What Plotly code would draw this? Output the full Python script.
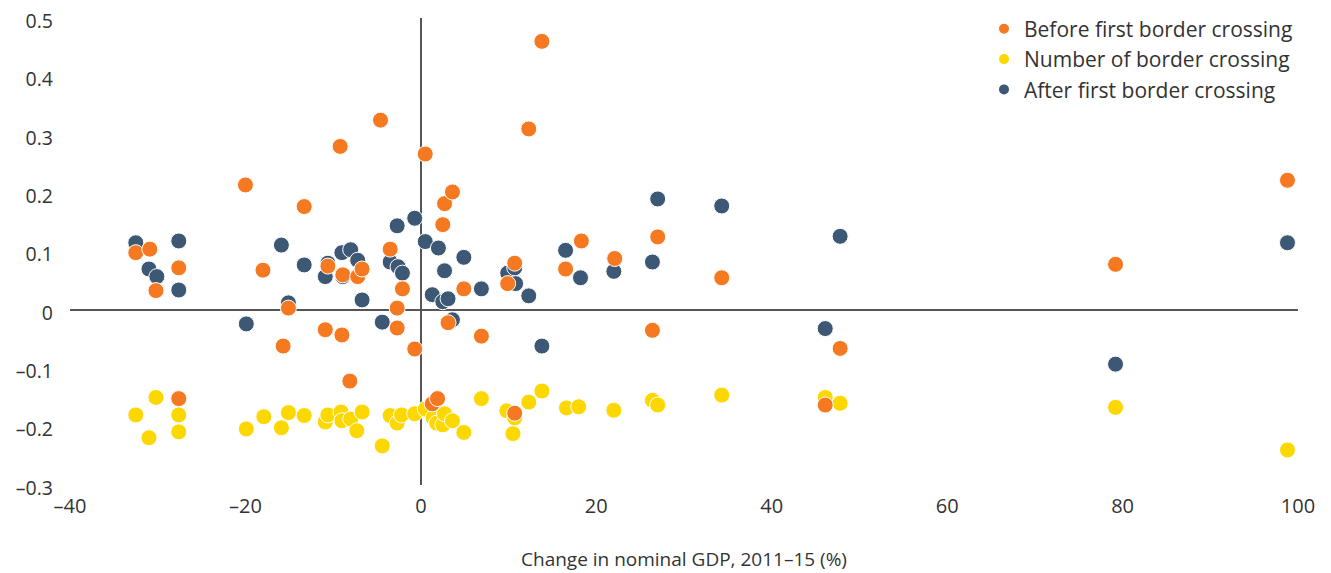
import plotly.graph_objects as go

# Before first border crossing (orange)
before_x = [-32.5, -30.9, -30.2, -27.6, -27.6, -20.0, -18.0, -15.7, -15.1, -13.3,
            -10.9, -10.6, -9.2, -9.0, -8.9, -8.1, -7.2, -6.7, -4.6, -3.5,
            -2.7, -2.7, -2.1, -0.7, 0.5, 1.3, 1.9, 2.5, 2.7, 3.1,
            3.6, 4.9, 6.9, 9.9, 10.7, 10.7, 12.3, 13.8, 16.5, 18.3,
            22.1, 26.4, 27.0, 34.3, 46.1, 47.8, 79.2, 98.8]
before_y = [0.098, 0.104, 0.033, 0.072, -0.152, 0.214, 0.068, -0.062, 0.003, 0.177,
            -0.034, 0.075, 0.280, -0.043, 0.060, -0.122, 0.057, 0.070, 0.325, 0.104,
            0.003, -0.031, 0.036, -0.067, 0.267, -0.161, -0.152, 0.146, 0.182, -0.022,
            0.202, 0.036, -0.045, 0.045, 0.080, -0.177, 0.310, 0.460, 0.070, 0.118,
            0.088, -0.035, 0.125, 0.055, -0.163, -0.066, 0.078, 0.222]

# Number of border crossing (yellow)
number_x = [-32.5, -31.0, -30.2, -27.6, -27.6, -19.9, -17.9, -15.9, -15.1, -13.3,
            -10.9, -10.6, -9.1, -9.0, -8.0, -7.3, -6.7, -4.4, -3.5, -2.7,
            -2.2, -0.7, 0.5, 1.4, 1.8, 2.5, 2.7, 3.6, 4.9, 6.9,
            9.8, 10.5, 10.7, 12.3, 13.8, 16.6, 18.0, 22.0, 26.4, 27.0,
            34.3, 46.1, 47.8, 79.2, 98.8]
number_y = [-0.180, -0.219, -0.150, -0.180, -0.209, -0.204, -0.183, -0.202, -0.176, -0.181,
            -0.192, -0.180, -0.175, -0.190, -0.187, -0.207, -0.175, -0.233, -0.181, -0.194,
            -0.180, -0.178, -0.170, -0.185, -0.194, -0.197, -0.178, -0.190, -0.210, -0.152,
            -0.173, -0.212, -0.185, -0.158, -0.139, -0.168, -0.166, -0.172, -0.155, -0.163,
            -0.146, -0.150, -0.160, -0.167, -0.240]

# After first border crossing (dark blue)
after_x = [-32.5, -31.0, -30.1, -27.6, -27.6, -19.9, -15.9, -15.1, -13.3, -10.9,
           -10.6, -9.0, -8.0, -8.9, -7.2, -6.7, -4.4, -3.5, -2.7, -2.6,
           -2.1, -0.7, 0.5, 1.3, 2.0, 2.5, 2.7, 3.1, 3.6, 4.9,
           6.9, 9.9, 10.7, 10.8, 12.3, 13.8, 16.5, 18.2, 22.0, 26.4,
           27.0, 34.3, 46.1, 47.8, 79.2, 98.8]
after_y = [0.115, 0.070, 0.057, 0.118, 0.034, -0.024, 0.111, 0.012, 0.077, 0.057,
           0.080, 0.098, 0.103, 0.057, 0.085, 0.017, -0.021, 0.082, 0.144, 0.074,
           0.063, 0.157, 0.117, 0.026, 0.106, 0.014, 0.067, 0.019, -0.017, 0.090,
           0.036, 0.063, 0.072, 0.045, 0.024, -0.062, 0.102, 0.055, 0.066, 0.082,
           0.190, 0.178, -0.032, 0.126, -0.093, 0.115]

x_ticks = [-40, -20, 0, 20, 40, 60, 80, 100]
x_ticktext = ["–40", "–20", "0", "20", "40", "60", "80", "100"]
y_ticks = [-0.3, -0.2, -0.1, 0, 0.1, 0.2, 0.3, 0.4, 0.5]
y_ticktext = ["–0.3", "–0.2", "–0.1", "0", "0.1", "0.2", "0.3", "0.4", "0.5"]

ORANGE = "#F47920"
YELLOW = "#FDD700"
BLUE = "#3C5875"
FONT = "'Open Sans', 'Noto Sans', sans-serif"

def mk(color):
    return dict(color=color, size=16, line=dict(color="white", width=1))

fig = go.Figure()
fig.add_trace(go.Scatter(x=number_x, y=number_y, mode="markers", name="Number of border crossing",
                         marker=mk(YELLOW), legendrank=2))
fig.add_trace(go.Scatter(x=after_x, y=after_y, mode="markers", name="After first border crossing",
                         marker=mk(BLUE), legendrank=3))
fig.add_trace(go.Scatter(x=before_x, y=before_y, mode="markers", name="Before first border crossing",
                         marker=mk(ORANGE), legendrank=1))

fig.update_layout(
    width=1331, height=573,
    margin=dict(l=62, r=41, t=10, b=96, autoexpand=False),
    paper_bgcolor="white", plot_bgcolor="white",
    font=dict(family=FONT, size=20, color="#333333"),
    showlegend=True,
    legend=dict(x=1.0, xanchor="right", y=1.02, yanchor="top",
                font=dict(family=FONT, size=21, color="#333333"), bgcolor="rgba(0,0,0,0)",
                itemsizing="constant", tracegroupgap=0),
    xaxis=dict(range=[-40, 100], tickvals=x_ticks, ticktext=x_ticktext, automargin=False,
               showgrid=False, zeroline=True, zerolinecolor="#555555", zerolinewidth=1.5,
               showline=False, ticks="", ticklen=0, ticklabelstandoff=7,
               ticklabeloverflow="allow",
               title=dict(text="Change in nominal GDP, 2011–15 (%)", font=dict(size=19),
                          standoff=34)),
    yaxis=dict(range=[-0.3, 0.5], tickvals=y_ticks, ticktext=y_ticktext, automargin=False,
               showgrid=False, zeroline=True, zerolinecolor="#555555", zerolinewidth=1.5,
               showline=False, ticks="", ticklen=0, ticklabelstandoff=16,
               ticklabelshift=3, ticklabeloverflow="allow", tickfont=dict(size=19.5)),
)

fig.write_html("out.html")
